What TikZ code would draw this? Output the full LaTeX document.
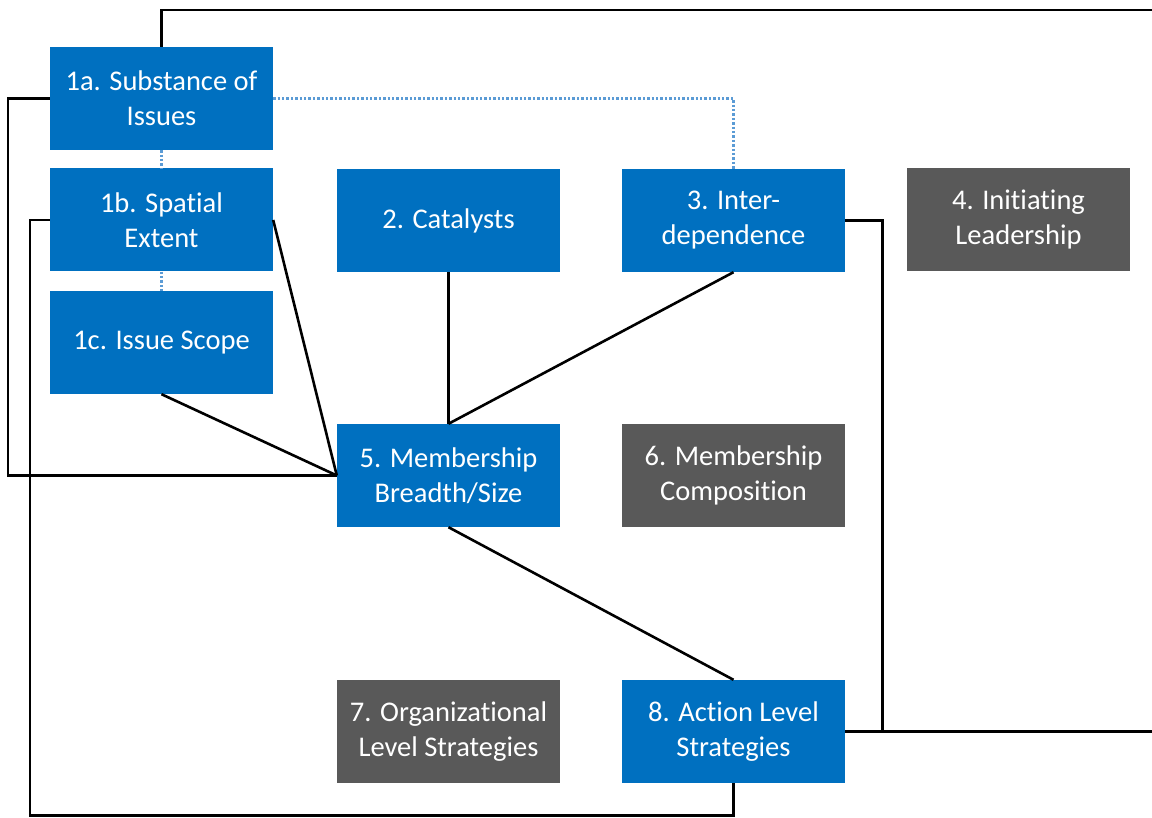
\documentclass[tikz,border=0pt]{standalone}
\usepackage{fontspec}
\setmainfont{Carlito}[Ligatures=NoCommon]
\usetikzlibrary{calc}
\definecolor{boxblue}{HTML}{0070C0}
\definecolor{boxgrey}{HTML}{595959}
\definecolor{dotblue}{HTML}{5B9BD5}

\begin{document}
\begin{tikzpicture}[x=1pt, y=-1pt,
box/.style={fill=boxblue, text=white, inner sep=0, minimum width=223pt, minimum height=103pt, align=center, font=\fontsize{28.5}{35}\selectfont},
greybox/.style={box, fill=boxgrey},
link/.style={black, line width=2.6pt},
dotlink/.style={dotblue, line width=2.4pt, dotted}]
%%%%%%%%%%%%%%%%%%%%%%% SIZE OF THE PICTURE %%%%%%%%%%%%%%%%%%%%%%%
\useasboundingbox (0,0) rectangle (1152,818);
\clip (0,0) rectangle (1152,818);
%%%%%%%% BOXES %%%%%%%%%%%%%
\node[box] (Substance) at (161.5,98.5) {1a. Substance of\\Issues};
\node[box] (Spatial) at (161.5,220) {1b. Spatial\\Extent};
\node[box] (Scope) at (161.5,342.5) {1c. Issue Scope};
\node[box] (Catalysts) at (448.5,220.5) {2. Catalysts};
\node[box] (Interdep) at (733.5,220.5) {3. Inter-\\dependence};
\node[greybox] (Leadership) at (1018.5,219.5) {4. Initiating\\Leadership};
\node[box] (Breadth) at (448.5,475.5) {5. Membership\\Breadth/Size};
\node[greybox] (Composition) at (733.5,475.5) {6. Membership\\Composition};
\node[greybox] (OrgLevel) at (448.5,731.5) {7. Organizational\\Level Strategies};
\node[box] (ActLevel) at (733.5,731.5) {8. Action Level\\Strategies};
%%%%%%%% DOTTED LINKS %%%%%%%%%%%%%
\draw[dotlink] (Substance) -- (Spatial);
\draw[dotlink] (Spatial) -- (Scope);
\draw[dotlink] (Substance.east) -| (Interdep.north);
%%%%%%%% SOLID LINKS %%%%%%%%%%%%%
\draw[link] (Catalysts.south) -- (Breadth.north);
\draw[link] (Interdep.south) -- (Breadth.north);
\draw[link] (Spatial.east) -- (Breadth.west);
\draw[link] (Scope.south) -- (Breadth.west);
\draw[link] (Breadth.south) -- (ActLevel.north);
\draw[link] (Substance.west) -- ++(-42,0) |- (Breadth.west);
\draw[link] (Spatial.west) -- ++(-20,0) |- ($(ActLevel.south)+(0,32)$) -- (ActLevel.south);
\draw[link] (Interdep.east) -- ++(37,0) |- (ActLevel.east);
\draw[link] (Substance.north) |- (1170,10) |- (ActLevel.east);
\end{tikzpicture}
\end{document}
